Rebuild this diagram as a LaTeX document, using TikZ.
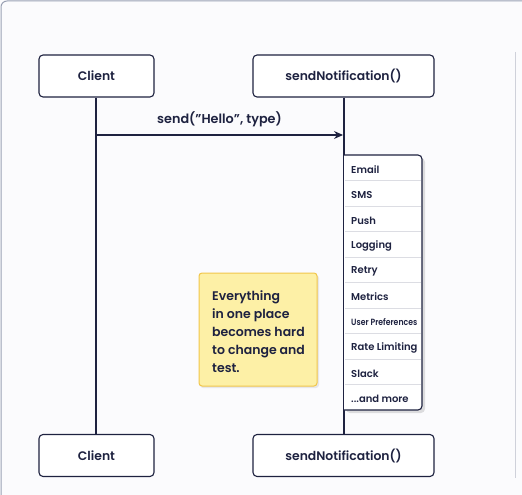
\documentclass[tikz,border=0pt]{standalone}
\usepackage{fontspec}
\setmainfont{Poppins}[BoldFont={* SemiBold}]
\usetikzlibrary{arrows.meta,shadows}
\definecolor{ink}{HTML}{1E2240}
\definecolor{frame}{HTML}{9AA1B4}
\definecolor{bg}{HTML}{FBFBFD}
\definecolor{sep}{HTML}{DCDDE3}
\definecolor{notefill}{HTML}{FDF0A6}
\definecolor{noteedge}{HTML}{F1C64A}
\tikzset{
  x=1pt, y=-1pt,
  actor/.style={draw=ink, line width=1.1pt, rounded corners=4pt, fill=white, minimum height=42pt, font=\bfseries\fontsize{12.4}{14}\selectfont, text=ink},
  life/.style={draw=ink, line width=1.1pt},
  item/.style={anchor=west, font=\bfseries\fontsize{10}{12}\selectfont, text=ink, inner sep=0pt},
  note/.style={draw=noteedge, line width=1pt, fill=notefill, rounded corners=3pt},
}
\begin{document}
\begin{tikzpicture}
\useasboundingbox (0,0) rectangle (522,495);
\fill[bg] (0,0) rectangle (522,495);
\draw[frame, line width=1pt, rounded corners=6pt] (1,520) -- (1,1) -- (530,1);
\draw[sep!80!frame, line width=1pt] (515,52) -- (515,478);

% actors
\node[actor, minimum width=115pt] (c1) at (96.5,76) {Client};
\node[actor, minimum width=181pt] (s1) at (343.5,76) {sendNotification()};
\node[actor, minimum width=115pt] (c2) at (96.5,455.5) {Client};
\node[actor, minimum width=181pt] (s2) at (343.5,455.5) {sendNotification()};

% lifelines
\draw[life] (c1.south -| 96,0) -- (c2.north -| 96,0);
\draw[life] (s1.south -| 344,0) -- (s2.north -| 344,0);

% message
\coordinate (m0) at (96,135);
\coordinate (m1) at (343,135);
\draw[life, -{Stealth[length=9pt,width=8pt]}] (m0) -- (m1) node[midway, above=4pt, font=\bfseries\fontsize{12.8}{14}\selectfont, text=ink] {send(\char34 Hello\char34, type)};

% responsibilities stack
\fill[black, opacity=0.12, rounded corners=4pt] (346,158) rectangle (425,413);
\draw[life, fill=white, rounded corners=4pt] (344,155) -- (422,155) -- (422,410) -- (344,410);
\foreach \i in {1,...,9} {
  \draw[sep, line width=0.8pt] (345,155+25.5*\i) -- (421,155+25.5*\i);
}
\node[item] (e1) at (351,169.5) {Email};
\node[item] (e2) at (351,195) {SMS};
\node[item] (e3) at (351,220.5) {Push};
\node[item] (e4) at (351,246) {Logging};
\node[item] (e5) at (351,271.5) {Retry};
\node[item] (e6) at (351,297) {Metrics};
\node[item, font=\bfseries\fontsize{9}{11}\selectfont] (e7) at (351,322.5) {\addfontfeature{FakeStretch=0.86}User Preferences};
\node[item] (e8) at (351,348) {Rate Limiting};
\node[item] (e9) at (351,373.5) {Slack};
\node[item] (e10) at (351,399) {...and more};

% note
\fill[black, opacity=0.08, rounded corners=3pt] (200,275) rectangle (319,388);
\node[note, minimum width=118pt, minimum height=113pt] (nb) at (258,329.5) {};
\node[anchor=north west, align=left, font=\bfseries\fontsize{12.5}{18}\selectfont, text=ink, inner sep=0pt] (nt) at (212,290) {Everything\\in one place\\becomes hard\\to change and\\test.};
\end{tikzpicture}
\end{document}
